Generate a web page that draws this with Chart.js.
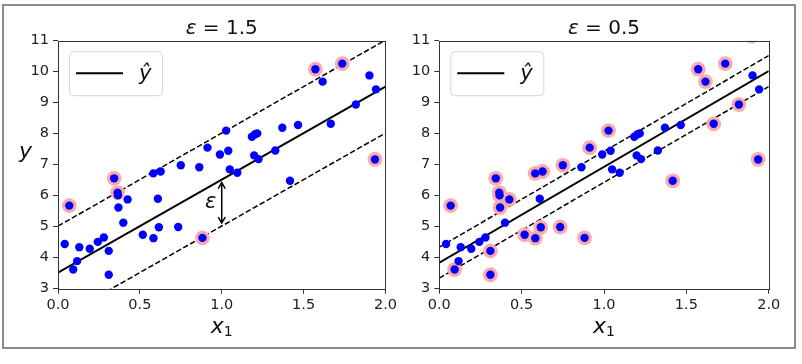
<!DOCTYPE html>
<html>
<head>
<meta charset="utf-8">
<script src="https://cdn.jsdelivr.net/npm/chart.js@4"></script>
<style>
  body { margin: 0; background: #fff; }
  #frame { position: absolute; left: 2px; top: 4px; width: 794px; height: 345px; box-sizing: border-box; border: 2px solid #8c8c8c; }
  canvas { position: absolute; top: 0; }
</style>
</head>
<body>
<div id="frame"></div>
<canvas id="left" width="400" height="364" style="left:0"></canvas>
<canvas id="right" width="402" height="364" style="left:400px"></canvas>
<script>
// 데이터
const pointX = [0.041, 0.069, 0.093, 0.117, 0.130, 0.194, 0.243, 0.280, 0.310, 0.310,
  0.343, 0.364, 0.366, 0.369, 0.399, 0.425, 0.518, 0.582, 0.583, 0.610,
  0.616, 0.627, 0.734, 0.750, 0.863, 0.882, 0.913, 0.989, 1.027, 1.040,
  1.049, 1.095, 1.184, 1.204, 1.217, 1.198, 1.225, 1.327, 1.370, 1.417,
  1.466, 1.572, 1.616, 1.666, 1.736, 1.819, 1.902, 1.936, 1.942, 1.897]
const pointY = [4.44, 5.68, 3.62, 3.89, 4.34, 4.29, 4.51, 4.65, 4.22, 3.45,
  6.56, 6.10, 6.01, 5.62, 5.13, 5.88, 4.74, 6.72, 4.63, 5.90,
  4.98, 6.78, 4.99, 6.98, 6.92, 4.64, 7.55, 7.33, 8.10, 7.45,
  6.85, 6.74, 7.90, 7.98, 8.01, 7.30, 7.18, 7.46, 8.19, 6.48,
  8.28, 10.08, 9.68, 8.32, 10.26, 8.94, 9.88, 7.17, 9.43, 11.15]
// support vector index
const supportLeft = [1, 10, 11, 25, 41, 44, 47]
const supportRight = [1, 2, 8, 9, 10, 11, 12, 13, 15, 16, 17, 18, 20, 21, 22, 23, 25, 26, 28, 39, 41, 42, 43, 44, 45, 47, 49]
const lineX = [0, 2]
const predLeft = [3.52, 9.52]
const predRight = [3.84, 10.02]
const epsLeft = 1.5
const epsRight = 0.5

const FONT = 'DejaVu Sans'

function drawRuns(ctx, runs, cx, base){
    let w = 0
    runs.forEach(r => { ctx.font = r.font; w += ctx.measureText(r.t).width })
    let x = cx - w / 2
    ctx.textAlign = 'left'
    ctx.textBaseline = 'alphabetic'
    runs.forEach(r => {
        ctx.font = r.font
        ctx.fillText(r.t, x, base + (r.dy || 0))
        x += ctx.measureText(r.t).width
    })
}

const decor = {
    id: 'decor',
    afterDraw(chart, args, o){
        const {ctx, chartArea: a, scales: {x, y}} = chart
        ctx.save()
        // 테두리
        ctx.strokeStyle = '#333'
        ctx.lineWidth = 1
        const l = Math.round(a.left) + 0.5, t = Math.round(a.top) + 0.5
        ctx.strokeRect(l, t, Math.round(a.right) - Math.round(a.left), Math.round(a.bottom) - Math.round(a.top))
        ctx.fillStyle = '#111'
        const cx = (a.left + a.right) / 2
        // 제목
        drawRuns(ctx, [{t: 'ε', font: `italic 20px ${FONT}`}, {t: ' = ' + o.eps, font: `20px ${FONT}`}], cx, 33.5)
        // x label
        drawRuns(ctx, [{t: 'x', font: `italic 22px ${FONT}`}, {t: '1', font: `14px ${FONT}`, dy: 3}], cx, 333)
        if(o.yLabel){
            drawRuns(ctx, [{t: 'y', font: `italic 22px ${FONT}`}], 25.5, 158)
        }
        // 범례
        const bx = a.left + 11, by = a.top + 10.5
        ctx.beginPath()
        ctx.roundRect(bx + 0.5, by + 0.5, 93, 44, 4)
        ctx.fillStyle = 'rgba(255,255,255,0.8)'
        ctx.fill()
        ctx.strokeStyle = '#d6d6d6'
        ctx.stroke()
        ctx.beginPath()
        ctx.moveTo(bx + 7, by + 22)
        ctx.lineTo(bx + 54, by + 22)
        ctx.strokeStyle = '#000'
        ctx.lineWidth = 2
        ctx.stroke()
        ctx.fillStyle = '#111'
        ctx.font = `italic 21px ${FONT}`
        ctx.textAlign = 'left'
        ctx.fillText('ŷ', bx + 70, by + 29)
        // epsilon 화살표
        if(o.arrow){
            const p = o.pred
            const yv = p[0] + (p[1] - p[0]) * (o.arrow.x - lineX[0]) / (lineX[1] - lineX[0])
            const px = x.getPixelForValue(o.arrow.x)
            const y1 = y.getPixelForValue(yv) + 3
            const y2 = y.getPixelForValue(yv - o.eps) - 3
            ctx.strokeStyle = '#000'
            ctx.lineWidth = 1.5
            ctx.beginPath()
            ctx.moveTo(px, y1); ctx.lineTo(px, y2)
            ctx.moveTo(px - 3.5, y1 + 6); ctx.lineTo(px, y1); ctx.lineTo(px + 3.5, y1 + 6)
            ctx.moveTo(px - 3.5, y2 - 6); ctx.lineTo(px, y2); ctx.lineTo(px + 3.5, y2 - 6)
            ctx.stroke()
            ctx.font = `italic 21px ${FONT}`
            ctx.fillText('ε', x.getPixelForValue(o.arrow.tx) - 2, y.getPixelForValue(o.arrow.ty))
        }
        ctx.restore()
    }
}

function displayChart(id, pred, eps, support, yWidth, pad, extra){
    const pts = pointX.map((v, i) => ({x: v, y: pointY[i]}))
    const line = (d) => lineX.map((v, i) => ({x: v, y: pred[i] + d}))
    new Chart(document.getElementById(id), {
        type: 'scatter',
        data: {
            datasets: [
                {data: pts, pointRadius: 4.2, backgroundColor: '#0000ff', borderWidth: 0, order: 0, clip: 0},
                {data: support.map(i => pts[i]), pointRadius: 7.4, backgroundColor: '#ffaaaa', borderWidth: 0, order: 1, clip: 0},
                {data: line(0), showLine: true, pointRadius: 0, borderColor: '#000', borderWidth: 2, order: 2, clip: 0},
                {data: line(eps), showLine: true, pointRadius: 0, borderColor: '#000', borderWidth: 1.5, borderDash: [5.5, 2.5], order: 2, clip: 0},
                {data: line(-eps), showLine: true, pointRadius: 0, borderColor: '#000', borderWidth: 1.5, borderDash: [5.5, 2.5], order: 2, clip: 0}
            ]
        },
        options: {
            responsive: false,
            animation: false,
            devicePixelRatio: 1,
            events: [],
            layout: {padding: pad},
            plugins: {
                legend: {display: false},
                tooltip: {enabled: false},
                decor: Object.assign({eps, pred}, extra)
            },
            scales: {
                x: {
                    type: 'linear', min: 0, max: 2,
                    afterFit: s => { s.height = 32 },
                    ticks: {stepSize: 0.5, callback: v => v.toFixed(1), font: {family: FONT, size: 14.5}, color: '#222', padding: 3, maxRotation: 0},
                    grid: {drawOnChartArea: false, tickLength: 5, tickColor: '#333'},
                    border: {display: false}
                },
                y: {
                    type: 'linear', min: 3, max: 11,
                    afterFit: s => { s.width = yWidth },
                    ticks: {stepSize: 1, font: {family: FONT, size: 14.5}, color: '#222', padding: 4},
                    grid: {drawOnChartArea: false, tickLength: 5, tickColor: '#333'},
                    border: {display: false}
                }
            }
        },
        plugins: [decor]
    })
}

displayChart('left', predLeft, epsLeft, supportLeft, 58, {top: 40.7, right: 13, bottom: 43.3, left: 0},
    {yLabel: true, arrow: {x: 1.0, tx: 0.91, ty: 5.6}})
displayChart('right', predRight, epsRight, supportRight, 39.3, {top: 40.7, right: 33.3, bottom: 43.3, left: 0}, {})
</script>
</body>
</html>
